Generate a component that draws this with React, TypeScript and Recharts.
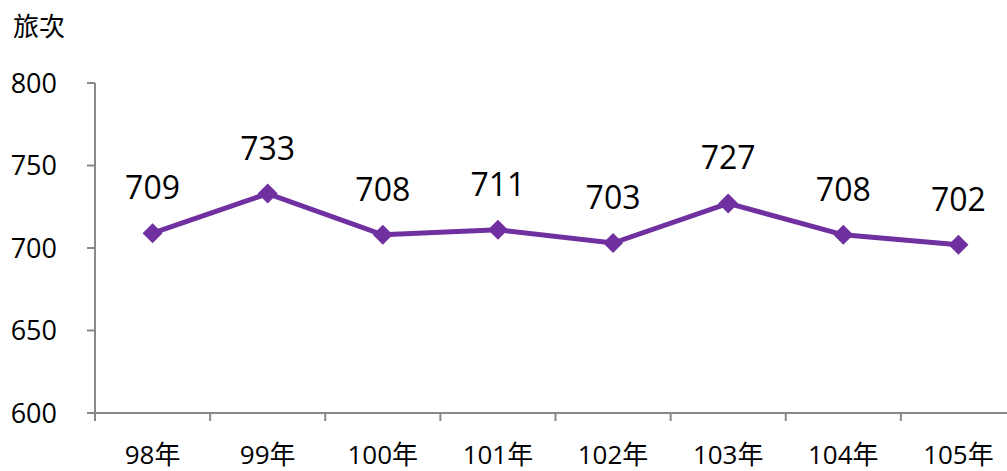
import { LineChart, Line, XAxis, YAxis, LabelList } from "recharts";

const years = ["98年", "99年", "100年", "101年", "102年", "103年", "104年", "105年"];
const trips = [709, 733, 708, 711, 703, 727, 708, 702];
const yTicks = [600, 650, 700, 750, 800];

const data = years.map((year, i) => ({ year, trips: trips[i] }));

const FONT = '"Open Sans", "Noto Sans CJK TC", sans-serif';
const PURPLE = "#7030A0";
const AXIS = "#898989";

const CHART_W = 1020;
const CHART_H = 471;
const X_H = 30;
const MARGIN = { top: 83, right: 4, bottom: 58 - X_H, left: 0 };
const Y_W = 95;
const BAND = (CHART_W - MARGIN.left - MARGIN.right - Y_W) / years.length;
const X_TICK = 8;
const X_GAP = 25;

function Diamond(props: any) {
  const { cx, cy } = props;
  if (cx == null || cy == null) return null;
  const r = 10;
  return (
    <polygon
      points={`${cx},${cy - r} ${cx + r},${cy} ${cx},${cy + r} ${cx - r},${cy}`}
      fill={PURPLE}
    />
  );
}

function YearTick(props: any) {
  const { x, y, payload, index } = props;
  const axisY = y - X_TICK - X_GAP;
  const left = x - BAND / 2;
  return (
    <g>
      <line x1={left} y1={axisY} x2={left} y2={axisY + X_TICK} stroke={AXIS} strokeWidth={2} />
      {index === years.length - 1 && (
        <line x1={x + BAND / 2} y1={axisY} x2={x + BAND / 2} y2={axisY + X_TICK} stroke={AXIS} strokeWidth={2} />
      )}
      <text x={x} y={y} dy="0.71em" textAnchor="middle" fontSize={26} fill="#000" fontFamily={FONT}>
        {payload.value}
      </text>
    </g>
  );
}

export default function App() {
  return (
    <div style={styles.frame}>
      <div style={styles.title}>旅次</div>
      <LineChart width={CHART_W} height={CHART_H} data={data} margin={MARGIN}>
        <XAxis
          dataKey="year"
          scale="band"
          height={X_H}
          interval={0}
          tickLine={false}
          axisLine={{ stroke: AXIS, strokeWidth: 2 }}
          tickSize={X_TICK}
          tickMargin={X_GAP}
          tick={<YearTick />}
        />
        <YAxis
          width={Y_W}
          domain={[600, 800]}
          ticks={yTicks}
          interval={0}
          tickSize={8}
          tickMargin={30}
          tickLine={{ stroke: AXIS, strokeWidth: 2 }}
          axisLine={{ stroke: AXIS, strokeWidth: 2 }}
          tick={{ fill: "#000", fontSize: 27, fontFamily: FONT }}
        />
        <Line
          type="linear"
          dataKey="trips"
          stroke={PURPLE}
          strokeWidth={5}
          dot={<Diamond />}
          activeDot={false}
          isAnimationActive={false}
        >
          <LabelList dataKey="trips" position="top" offset={34} fill="#000" fontSize={32} fontFamily={FONT} />
        </Line>
      </LineChart>
    </div>
  );
}

const styles: Record<string, React.CSSProperties> = {
  frame: {
    position: "absolute",
    left: 0,
    top: 0,
    width: 1007,
    height: 471,
    overflow: "hidden",
    background: "#ffffff",
  },
  title: {
    position: "absolute",
    left: 13,
    top: 8,
    fontSize: 26,
    lineHeight: "36px",
    fontFamily: FONT,
    color: "#000",
  },
};
